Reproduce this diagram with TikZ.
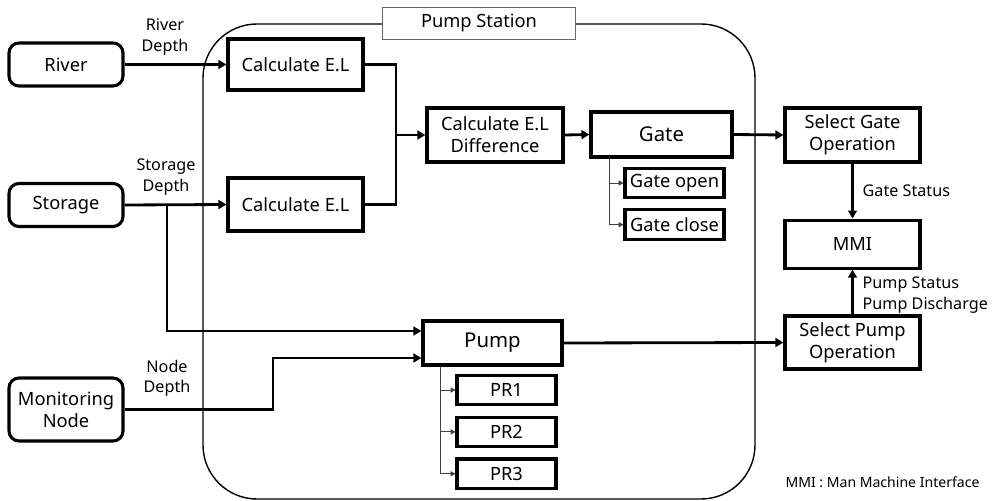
\documentclass[tikz,border=0pt]{standalone}
\usepackage{fontspec}
\setmainfont{Noto Sans}
\usetikzlibrary{arrows.meta,positioning}
\tikzset{
  srcbox/.style={draw=black, line width=2.2pt, rounded corners=2.5mm, minimum width=28.5mm, minimum height=10.75mm, align=center, inner sep=1pt, font=\fontsize{13}{15.6}\selectfont},
  procbox/.style={draw=black, line width=2.2pt, minimum width=33.75mm, minimum height=12.75mm, align=center, inner sep=1pt, font=\fontsize{13}{15.6}\selectfont},
  subbox/.style={draw=black, line width=2.2pt, minimum width=24.75mm, minimum height=7.4mm, inner sep=1pt, font=\fontsize{13}{15.6}\selectfont},
  stationbox/.style={draw=black, line width=1pt, rounded corners=13.5mm, minimum width=138mm, minimum height=118.75mm},
  stationtag/.style={draw=black!60, line width=0.6pt, fill=white, minimum width=48.25mm, minimum height=8mm, font=\fontsize{13}{15.6}\selectfont},
  tag/.style={align=center, inner sep=0pt, font=\fontsize{11.5}{14.5}\selectfont},
  note/.style={inner sep=0pt, font=\fontsize{10}{12}\selectfont},
  link/.style={-{Triangle[length=2mm,width=2.2mm]}, line width=2pt, draw=black},
  sublink/.style={-{Triangle[length=1.2mm,width=1.3mm]}, line width=0.6pt, draw=black!75}
}
\begin{document}
\begin{tikzpicture}[x=0.25mm, y=-0.25mm]
  \useasboundingbox (0,0) rectangle (993,501);

  % pump station frame
  \node[stationbox] (station) at (479,261.5) {};
  \node[stationtag] (stlabel) at (station.north) {Pump Station};

  % sources
  \node[srcbox] (river) at (66,64.5) {River};
  \node[srcbox] (storage) at (66,205) {Storage};
  \node[srcbox, minimum height=15.75mm] (monitor) at (66,409.5) {Monitoring\\Node};

  % gate side
  \node[procbox] (calcup) at (295.5,64.5) {Calculate E.L};
  \node[procbox, minimum height=13.25mm] (calclow) at (295.5,204.5) {Calculate E.L};
  \node[procbox, minimum width=34mm, minimum height=13.5mm] (cdiff) at (495,135) {Calculate E.L\\Difference};
  \node[procbox, minimum width=35.25mm, minimum height=11.25mm, font=\fontsize{14.5}{17}\selectfont] (gate) at (661.5,134.5) {Gate};
  \node[subbox] (gopen) at (674.5,183) {Gate open};
  \node[subbox, below=2.25mm of gopen] (gclose) {Gate close};

  % pump side
  \node[procbox, minimum width=34.75mm, minimum height=11mm, font=\fontsize{14.5}{17}\selectfont] (pump) at (492.5,343) {Pump};
  \node[subbox] (pr1) at (506.5,390) {PR1};
  \node[subbox, below=2.3mm of pr1] (pr2) {PR2};
  \node[subbox, below=2.3mm of pr2] (pr3) {PR3};

  % outside the station
  \node[procbox, minimum height=13.5mm] (selgate) at (852.5,135) {Select Gate\\Operation};
  \node[procbox, minimum height=12mm, below=13.75mm of selgate] (mmi) {MMI};
  \node[procbox, minimum height=13.25mm] (selpump) at (852.5,342.5) {Select Pump\\Operation};

  \node[tag] (rdepth) at (165,37) {River\\Depth};
  \node[tag] (sdepth) at (166,177) {Storage\\Depth};
  \node[tag] (ndepth) at (167,378) {Node\\Depth};
  \node[note] (mminote) at (882.5,482) {MMI : Man Machine Interface};

  \coordinate (cjoin) at (396,135);
  \coordinate (sbranch) at (167,205);
  \coordinate (mbend) at (273,409.5);

  \draw[link] (river.east) -- (calcup.west);
  \draw[link] (storage.east) -- (calclow.west);
  \draw[link] (calcup.east) -| (cjoin) -- (cdiff.west);
  \draw[line width=2pt] (calclow.east) -| (cjoin);
  \draw[link] (cdiff.east) -- (gate.west);
  \draw[link] (gate.east) -- (selgate.west);
  \draw[sublink] ([xshift=5mm]gate.south west) |- (gopen.west);
  \draw[sublink] ([xshift=5mm]gate.south west) |- (gclose.west);

  \draw[link] (sbranch) |- ([yshift=3mm]pump.west);
  \draw[link] (monitor.east) -- (mbend) |- ([yshift=-3.75mm]pump.west);
  \draw[link] (pump.east) -- (selpump.west);
  \draw[sublink] ([xshift=4.75mm]pump.south west) |- (pr1.west);
  \draw[sublink] ([xshift=4.75mm]pump.south west) |- (pr2.west);
  \draw[sublink] ([xshift=4.75mm]pump.south west) |- (pr3.west);

  \draw[link] (selgate.south) -- (mmi.north) node[tag, midway, right=2.2mm] {Gate Status};
  \draw[link] (selpump.north) -- (mmi.south) node[tag, midway, right=2.2mm, align=left, yshift=-0.75mm] {Pump Status\\Pump Discharge};
\end{tikzpicture}
\end{document}
